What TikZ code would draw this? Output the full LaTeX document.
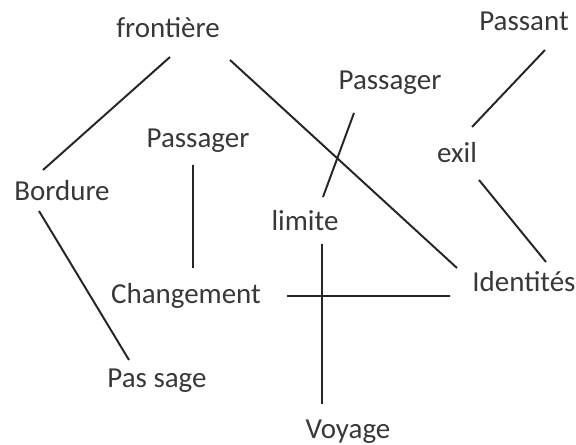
\documentclass[tikz,border=0pt]{standalone}
\usepackage{fontspec}
\setmainfont{Carlito}
\usepackage{tikz}

\begin{document}
\begin{tikzpicture}[
    mot/.style = {inner sep=0pt, text=black!78, text height=1em, text depth=0em,
                  font=\fontsize{20.6}{24}\selectfont},
    trait/.style = {line width=1.4pt, black!85}
    ]
        \useasboundingbox (0,0) rectangle (14.4,11.125);
        \node[mot] (frontiere) at (4.2,10.375) {frontière};
        \node[mot] (passant) at (13.1,10.55) {Passant};
        \node[mot] (passagerB) at (9.75,9.075) {Passager};
        \node[mot] (passagerA) at (4.95,7.625) {Passager};
        \node[mot] (exil) at (11.425,7.25) {exil};
        \node[mot] (bordure) at (1.55,6.3) {Bordure};
        \node[mot] (limite) at (7.625,5.55) {limite};
        \node[mot] (identites) at (13.1,4.025) {Identités};
        \node[mot] (changement) at (4.65,3.725) {Changement};
        \node[mot] (passage) at (3.925,1.625) {Pas sage};
        \node[mot] (voyage) at (8.7,0.35) {Voyage};

        \draw[trait] ([shift={(0.05,-0.675)}]frontiere.center) -- ([shift={(-0.475,0.575)}]bordure.center);
        \draw[trait] ([shift={(1.55,-0.75)}]frontiere.center) -- ([shift={(-1.675,0.4)}]identites.center);
        \draw[trait] ([shift={(-0.125,-0.625)}]passagerA.center) -- ([shift={(0.175,0.7)}]changement.center);
        \draw[trait] ([shift={(-0.9,-0.775)}]passagerB.center) -- ([shift={(0.45,0.65)}]limite.center);
        \draw[trait] ([shift={(0.525,-0.675)}]passant.center) -- ([shift={(0.375,0.7)}]exil.center);
        \draw[trait] ([shift={(0.55,-0.625)}]exil.center) -- ([shift={(0.55,0.55)}]identites.center);
        \draw[trait] ([shift={(-0.575,-0.45)}]bordure.center) -- ([shift={(-0.7,0.5)}]passage.center);
        \draw[trait] ([shift={(2.525,0)}]changement.center) -- ([shift={(-1.85,-0.3)}]identites.center);
        \draw[trait] ([shift={(0.425,-0.525)}]limite.center) -- ([shift={(-0.65,0.675)}]voyage.center);
\end{tikzpicture}
\end{document}
